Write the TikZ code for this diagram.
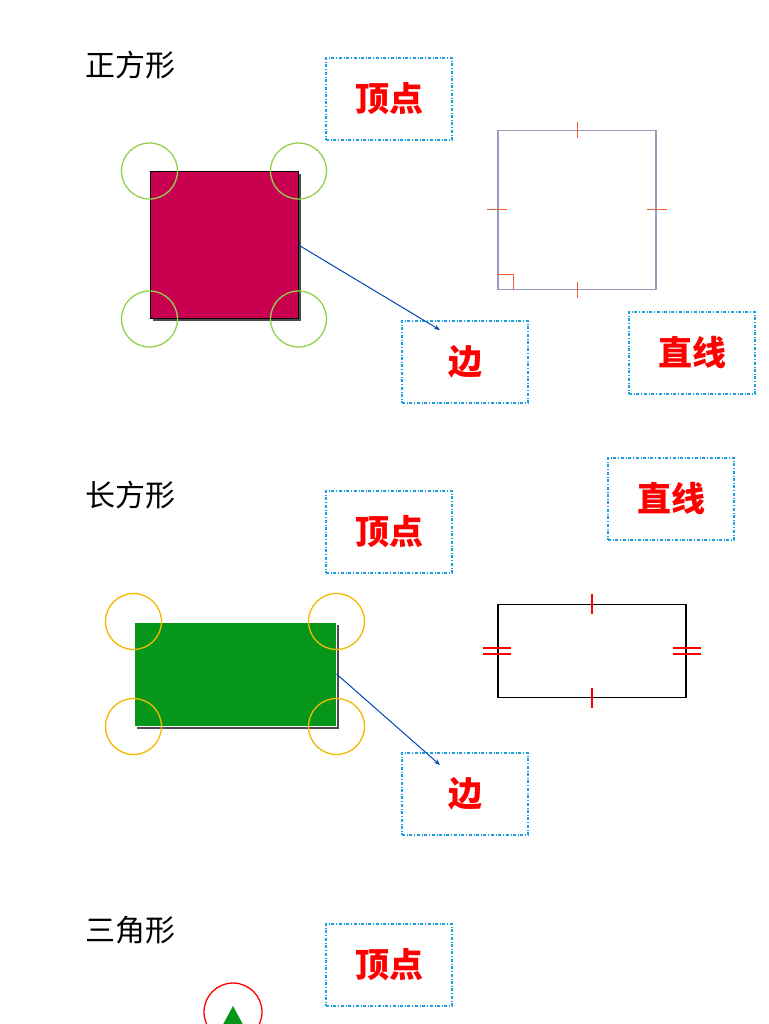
\documentclass[tikz,border=0pt]{standalone}
\usepackage{fontspec}
\newfontfamily\cjk{Noto Sans CJK SC}
\usepackage{tikz}
\usetikzlibrary{arrows.meta}
\definecolor{boxblue}{HTML}{1BA1E2}
\definecolor{sqred}{HTML}{C8004F}
\definecolor{rectgreen}{HTML}{05961A}
\definecolor{ringgreen}{HTML}{92D050}
\definecolor{ringyellow}{HTML}{F5B800}
\definecolor{tickorange}{HTML}{F06030}
\tikzset{
  title/.style={font=\cjk\fontsize{30}{30}\selectfont},
  tagbox/.style={draw=boxblue,dash dot,line width=1.2pt,minimum width=126pt,minimum height=82pt,
    text=red,font=\cjk\bfseries\fontsize{34}{34}\selectfont},
  ring/.style={circle,draw,line width=1.3pt,minimum size=56pt},
  pointer/.style={-{Stealth[length=6pt]},draw=blue!60!cyan!70!black,line width=1pt}
}
\begin{document}
\begin{tikzpicture}[x=1pt,y=-1pt]
\useasboundingbox (0,0) rectangle (768,1024);

% square
\node[title] (t1) at (130,65) {正方形};
\node[tagbox] (v1) at (389,99) {顶点};
\fill[black!70] (153,174) rectangle (301,321);
\node[draw=black,fill=sqred,line width=1pt,minimum width=148pt,minimum height=147pt,inner sep=0] (sq) at (224,245) {};
\foreach \p/\n in {sq.north west/a, sq.north east/b, sq.south west/c, sq.south east/d}
  \node[ring,draw=ringgreen] (g\n) at (\p) {};
\node[tagbox] (e1) at (465,362) {边};
\coordinate (p1) at (440,330);
\draw[pointer] (sq.east) -- (p1);
\node[draw=black!60!blue!40,line width=1.3pt,minimum width=158pt,minimum height=159pt,inner sep=0] (sq2) at (577,210) {};
\foreach \p in {north, south}
  \draw[tickorange,line width=1pt] (sq2.\p) ++(0,-8) -- ++(0,16);
\foreach \p in {west, east}
  \draw[tickorange,line width=1pt] (sq2.\p) ++(-10,0) -- ++(20,0);
\draw[tickorange,line width=0.8pt] (sq2.south west) ++(0,-16) -| ++(16,16);
\node[tagbox] (l1) at (692,353) {直线};

% rectangle
\node[title] (t2) at (130,495) {长方形};
\node[tagbox] (v2) at (389,532) {顶点};
\node[tagbox] (l2) at (671,499) {直线};
\fill[black!70] (137,625) rectangle (339,729);
\node[draw=white,fill=rectgreen,line width=1pt,minimum width=202pt,minimum height=104pt,inner sep=0] (re) at (235,674) {};
\foreach \p/\n in {re.north west/a, re.north east/b, re.south west/c, re.south east/d}
  \node[ring,draw=ringyellow] (y\n) at (\p) {};
\node[tagbox] (e2) at (465,794) {边};
\coordinate (p2) at (440,765);
\draw[pointer] (re.east) -- (p2);
\node[draw=black,line width=1.2pt,minimum width=188pt,minimum height=93pt,inner sep=0] (re2) at (592,651) {};
\draw[red,line width=1.3pt] (re2.north) ++(0,-10) -- ++(0,20);
\draw[red,line width=1.3pt] (re2.south) ++(0,-10) -- ++(0,20);
\draw[red,line width=1.3pt] (re2.west) ++(-14,-3) -- ++(28,0) ++(-28,6) -- ++(28,0);
\draw[red,line width=1.3pt] (re2.east) ++(-14,-3) -- ++(28,0) ++(-28,6) -- ++(28,0);

% triangle
\node[title] (t3) at (130,930) {三角形};
\node[tagbox] (v3) at (389,965) {顶点};
\node[circle,draw=red,line width=1.3pt,minimum size=58pt] (rt) at (233,1012) {};
\fill[rectgreen] (233,1006) -- (246,1030) -- (220,1030) -- cycle;
\end{tikzpicture}
\end{document}
